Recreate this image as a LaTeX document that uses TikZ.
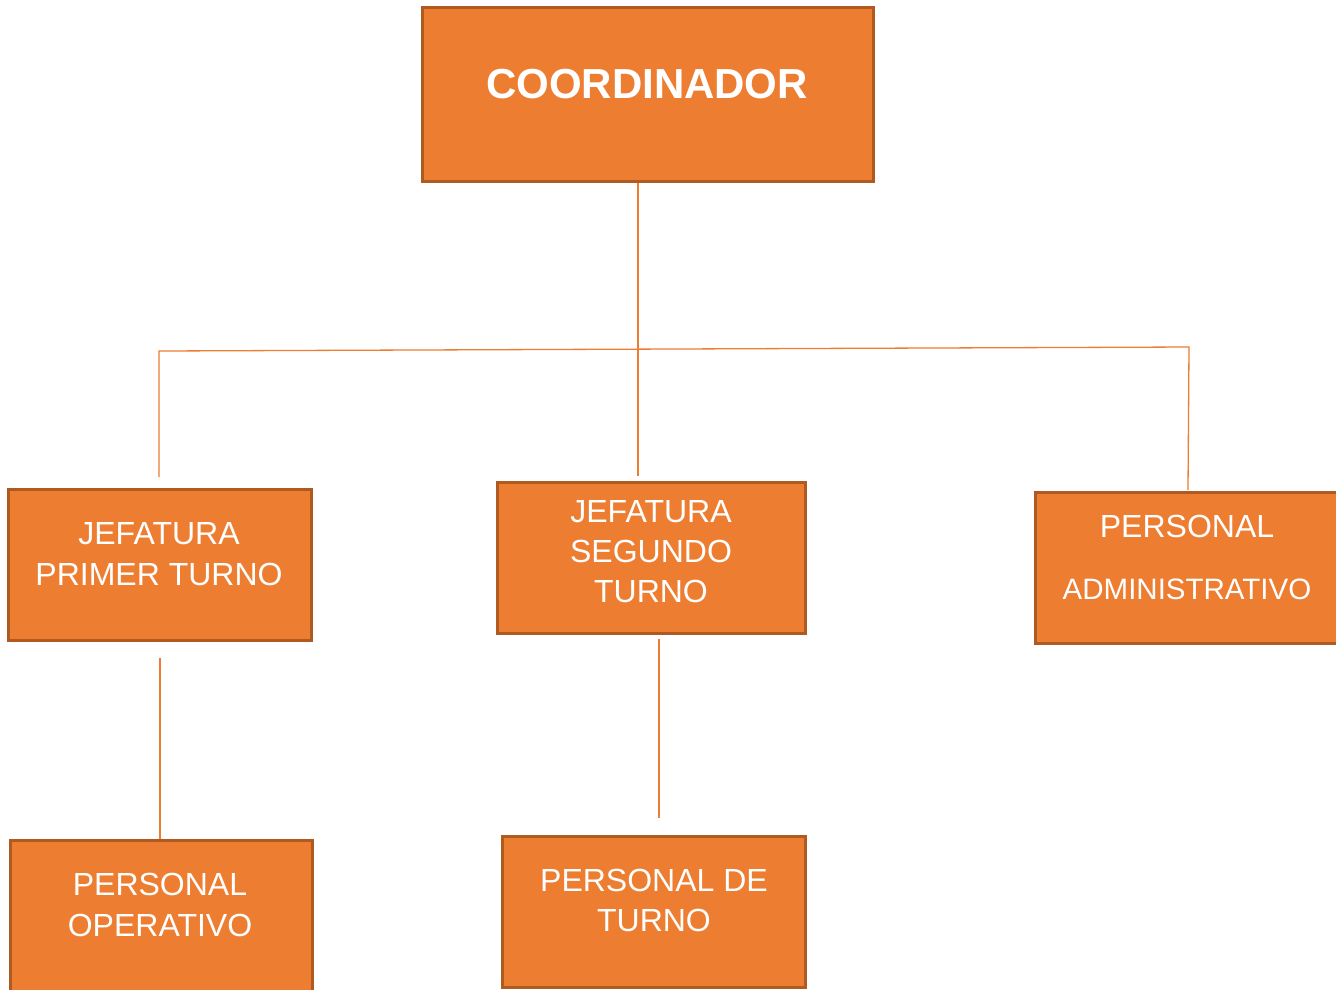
\documentclass[tikz,border=0pt]{standalone}
\usepackage{fontspec}
\setmainfont{Liberation Sans}
\definecolor{orgfill}{HTML}{ED7D31}
\definecolor{orgedge}{HTML}{AE5A21}
\begin{document}
\begin{tikzpicture}[x=1pt,y=-1pt,
  box/.style={draw=orgedge,line width=3pt,fill=orgfill,rectangle,inner sep=0pt},
  lbl/.style={text=white,align=center,anchor=base,inner sep=0pt,font=\fontsize{32}{41}\selectfont},
  conn/.style={draw=orgfill,line width=1.3pt}]
\useasboundingbox (0,0) rectangle (1336,989);
% boxes
\node[box,minimum width=451pt,minimum height=174pt] (coord) at (647.5,94) {};
\node[box,minimum width=303pt,minimum height=151pt] (j1) at (159.5,564.5) {};
\node[box,minimum width=308pt,minimum height=151pt] (j2) at (651,557.5) {};
\node[box,minimum width=305pt,minimum height=151pt] (pa) at (1187.5,567.5) {};
\node[box,minimum width=302pt,minimum height=155pt] (po) at (161,917.5) {};
\node[box,minimum width=303pt,minimum height=151pt] (pt) at (653.5,911.5) {};
% texts (anchor base = last line baseline)
\node[lbl,font=\bfseries\fontsize{42}{50}\selectfont] (coordt) at (647,98) {COORDINADOR};
\node[lbl] (j1t) at (159,585.5) {JEFATURA\\PRIMER TURNO};
\node[lbl,font=\fontsize{32}{40}\selectfont] (j2t) at (651,602.5) {JEFATURA\\SEGUNDO\\TURNO};
\node[lbl,font=\fontsize{32}{62}\selectfont] (pat) at (1187,599.5) {PERSONAL\\\fontsize{29.5}{62}\selectfont ADMINISTRATIVO};
\node[lbl] (pot) at (160,936.5) {PERSONAL\\OPERATIVO};
\node[lbl,font=\fontsize{32}{40}\selectfont] (ptt) at (654,931.5) {PERSONAL DE\\TURNO};
% connectors
\coordinate (t2) at (638,476);
\coordinate (hl) at (159,351);
\coordinate (hr) at (1189,347);
\coordinate (t1) at (159,477);
\coordinate (t3) at (1188,490);
\coordinate (b1) at (160,658);
\coordinate (b2) at (659,639);
\coordinate (e2) at (659,818);
\draw[conn] (coord.south -| t2) -- (t2);
\draw[conn] (t1) -- (hl) -- (hr) -- (t3);
\draw[conn] (b1) -- (b1 |- po.north);
\draw[conn] (b2) -- (e2);
\end{tikzpicture}
\end{document}
